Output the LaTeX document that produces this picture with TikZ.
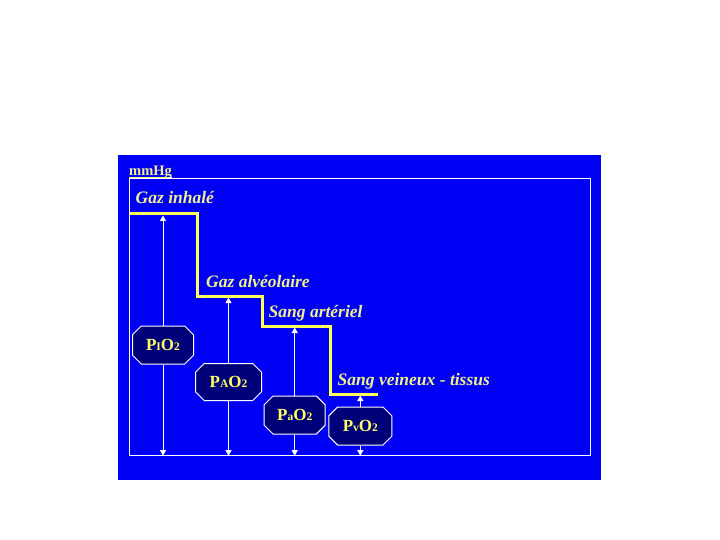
\documentclass[tikz,border=0pt]{standalone}
\usepackage{fontspec}
\setmainfont{Liberation Serif}
\usetikzlibrary{shapes.misc,arrows.meta,calc}
\definecolor{bgblue}{RGB}{0,0,245}
\definecolor{navy}{RGB}{0,0,120}
\definecolor{lbl}{RGB}{240,240,140}
\definecolor{stepyellow}{RGB}{255,255,90}
\definecolor{octtext}{RGB}{255,255,100}
\newcommand\smp[1]{{\fontsize{11.5}{11.5}\selectfont #1}}
\begin{document}
\begin{tikzpicture}[x=1pt,y=-1pt,
  octa/.style={chamfered rectangle, chamfered rectangle angle=45,
    chamfered rectangle xsep=9pt, draw=white, line width=1pt, fill=navy,
    text=octtext, font=\fontsize{17}{17}\selectfont\bfseries,
    inner sep=0pt, minimum height=38pt},
  lab/.style={anchor=base west, inner sep=0pt, text=lbl,
    font=\fontsize{17.5}{18}\selectfont\bfseries\itshape},
  arr/.style={draw=white, line width=1pt, -{Triangle[width=6pt,length=5.5pt]}},
  stepline/.style={draw=stepyellow, line width=3pt, line join=miter},
  framebox/.style={draw=white, line width=1pt}
]
\useasboundingbox (0,0) rectangle (720,540);
\fill[white] (0,0) rectangle (720,540);
\fill[bgblue] (118,155.5) rectangle (600.5,479.5);
\draw[framebox] (129.5,178.7) rectangle (590.7,455.7);

% mmHg
\node[anchor=base west, inner sep=0pt, text=lbl,
  font=\fontsize{14.5}{15}\selectfont\bfseries] (mm) at (129,176) {mmHg};
\draw[lbl, line width=1.3pt] (mm.base west |- 0,177.4) -- (mm.base east |- 0,177.4);

% step line
\draw[stepline] (130,214) -- (197.5,214) -- (197.5,296) -- (262.5,296)
  -- (262.5,326) -- (330.5,326) -- (330.5,394) -- (377.5,394);

% labels
\node[lab] (gi) at (135.5,204) {Gaz inhalé};
\node[lab] (ga) at (206,287) {Gaz alvéolaire};
\node[lab] (sa) at (268.5,317) {Sang artériel};
\node[lab] (sv) at (337.5,385) {Sang veineux - tissus};

% octagons
\node[octa, minimum width=61pt] (pi) at (163,345) {P\smp{I}O\smp{2}};
\node[octa, minimum width=66pt, minimum height=37pt] (pa) at (228.5,382) {P\smp{A}O\smp{2}};
\node[octa, minimum width=61pt] (par) at (294.7,415) {P\smp{a}O\smp{2}};
\node[octa, minimum width=63pt] (pv) at (360.3,426) {P\smp{v}O\smp{2}};

% arrow ends
\coordinate (t1) at (163,215.5);
\coordinate (t2) at (228.5,297.5);
\coordinate (t3) at (294.7,327.5);
\coordinate (t4) at (360.3,395.5);
\coordinate (b1) at (163,455.7);
\coordinate (b2) at (228.5,455.7);
\coordinate (b3) at (294.7,455.7);
\coordinate (b4) at (360.3,455.7);

\draw[arr] (pi.north) -- (t1);
\draw[arr] (pi.south) -- (b1);
\draw[arr] (pa.north) -- (t2);
\draw[arr] (pa.south) -- (b2);
\draw[arr] (par.north) -- (t3);
\draw[arr] (par.south) -- (b3);
\draw[arr] (pv.north) -- (t4);
\draw[arr] (pv.south) -- (b4);
\end{tikzpicture}
\end{document}
